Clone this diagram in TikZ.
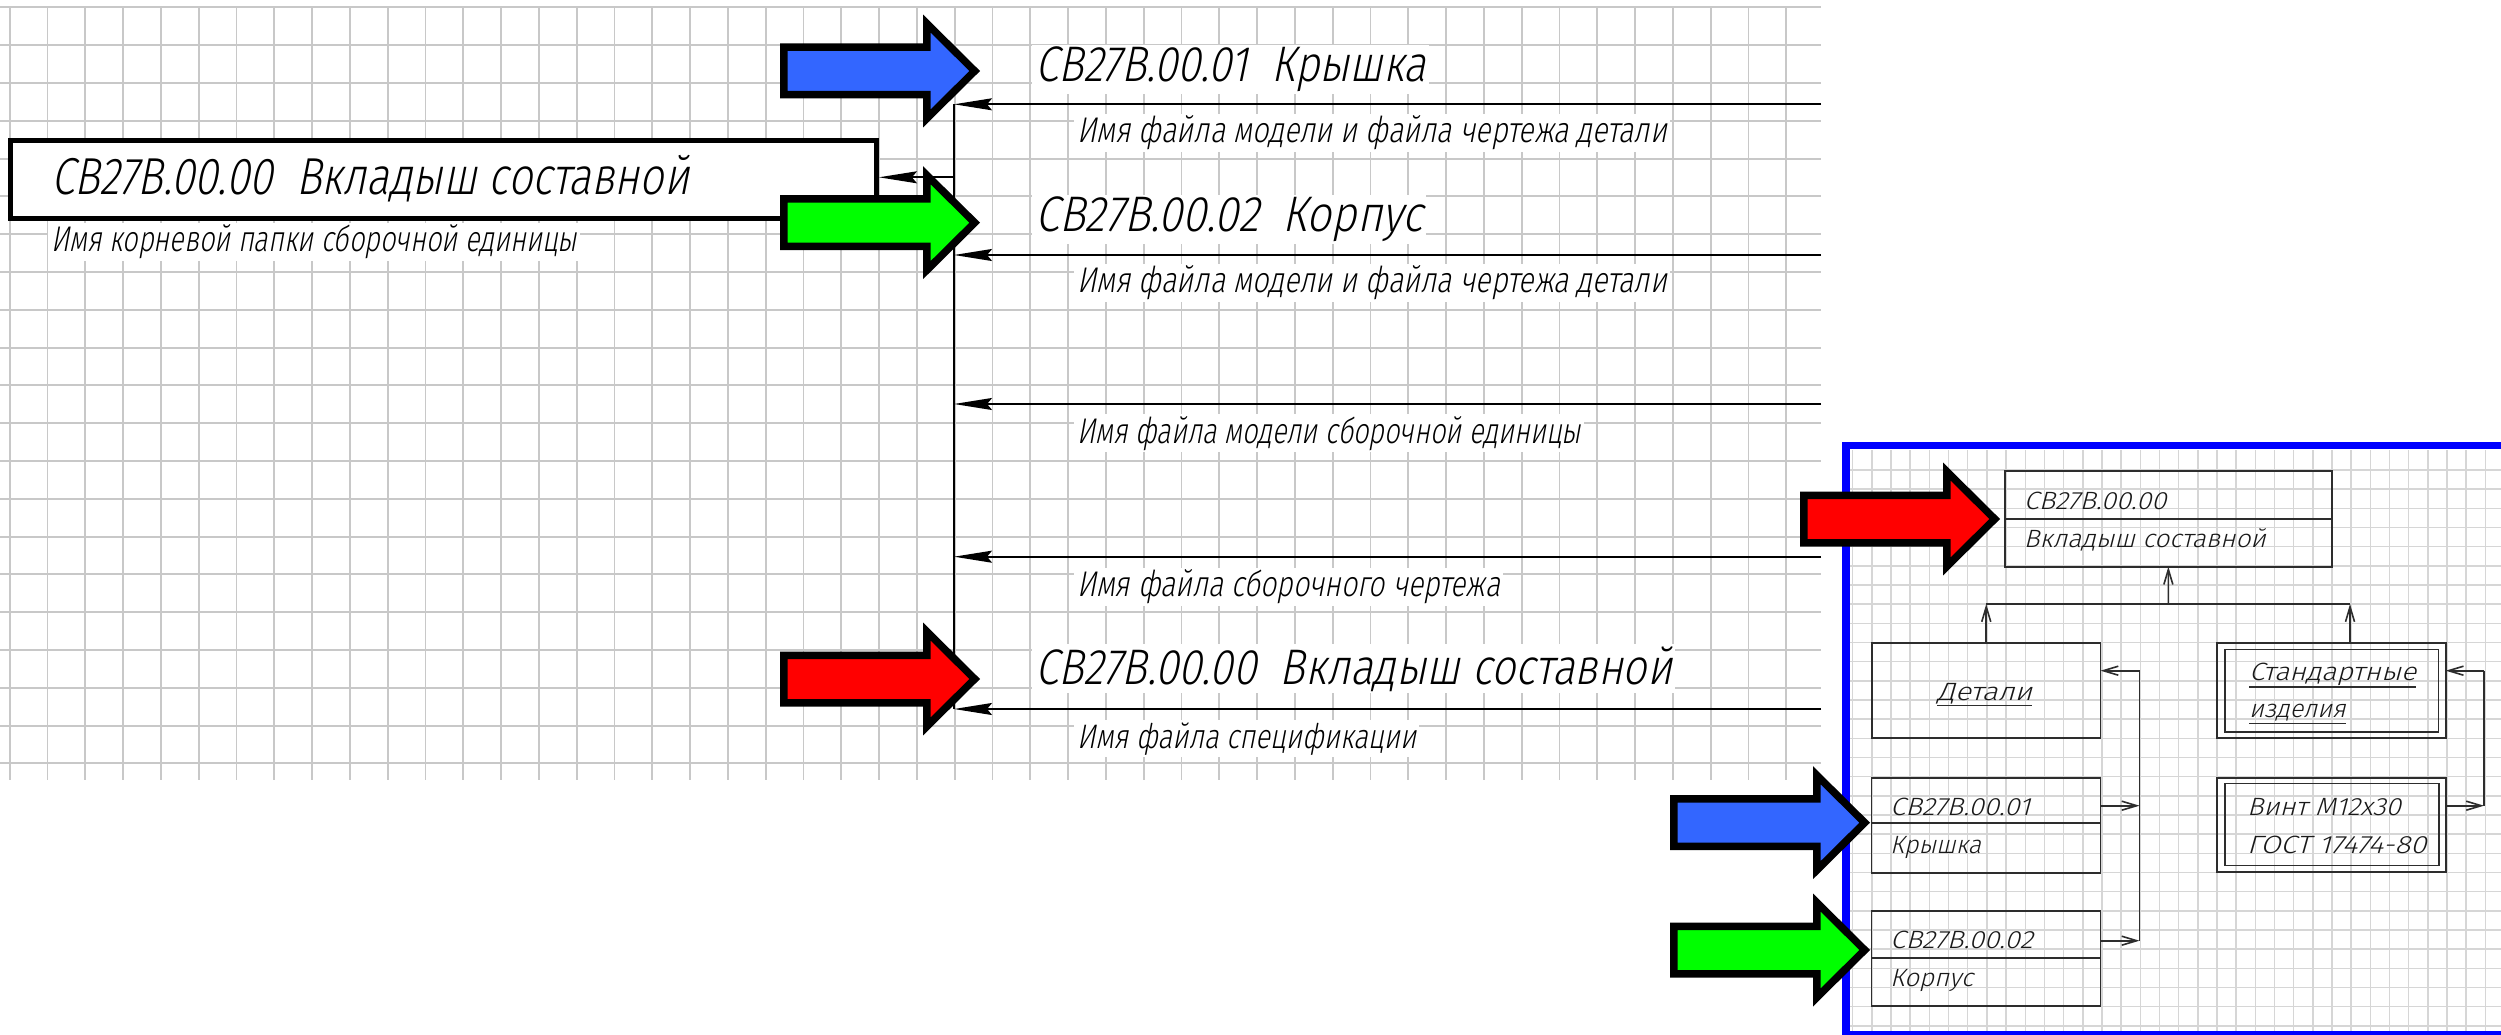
\documentclass[tikz,border=0pt]{standalone}
\usepackage{fontspec}
\usepackage{graphicx}
\usetikzlibrary{arrows.meta}
\IfFontExistsTF{Fira Sans Light}
  {\newfontfamily\gostfont{Fira Sans Light}[FakeSlant=0.24]}
  {\newfontfamily\gostbase{PT Sans}\newcommand\gostfont{\gostbase\itshape}}
\definecolor{gridc}{RGB}{200,200,200}
\definecolor{fgrid}{RGB}{214,214,214}
\definecolor{blueA}{RGB}{51,102,255}
\definecolor{frameblue}{RGB}{0,0,255}
\definecolor{rline}{RGB}{45,45,45}
\definecolor{rtext}{RGB}{25,25,25}
\newcommand\gtxt[3]{\resizebox{#1pt}{\height}{\fontsize{#2}{#2}\selectfont\gostfont #3}}
\newcommand\blockarr[3]{%
  \draw[barrow, fill=#1] ({#2-196.25},{#3-23.75}) -- ({#2-53.25},{#3-23.75}) -- ({#2-53.25},{#3-47.5}) -- ({#2-5.3},#3) -- ({#2-53.25},{#3+47.5}) -- ({#2-53.25},{#3+23.75}) -- ({#2-196.25},{#3+23.75}) -- cycle;}
\tikzset{
  lbl/.style={anchor=base west, inner xsep=3pt, inner ysep=2pt, fill=white, text=black},
  rlbl/.style={anchor=base west, inner sep=0pt, text=rtext},
  larrow/.style={draw=black, line width=2pt, -{Stealth[length=38pt,width=12pt,inset=5pt]}},
  rarr/.style={draw=rline, line width=1.6pt, -{Straight Barb[length=15pt,width=9pt]}},
  rbox/.style={draw=rline, line width=1.8pt, inner sep=0pt, outer sep=0pt, anchor=north west},
  barrow/.style={draw=black, line width=7.5pt, miter limit=10, line join=miter},
  uline/.style={draw=rline, line width=1.6pt},
}
\begin{document}
\begin{tikzpicture}[x=1pt,y=-1pt]
\useasboundingbox (0,0) rectangle (2501,1035);
\clip (0,0) rectangle (2501,1035);
\fill[white] (0,0) rectangle (2501,1035);
% ---------- left grid
\foreach \i in {0,...,20} \draw[gridc, line width=2pt] (0,{7.4+37.8*\i}) -- (1821,{7.4+37.8*\i});
\foreach \i in {0,...,47} \draw[gridc, line width=1.8pt] ({9.6+37.8*\i},7.4) -- ({9.6+37.8*\i},780);
% ---------- root box
\node[draw=black, fill=white, line width=4.5pt, inner sep=0pt, minimum width=866.2pt, minimum height=78pt, anchor=north west] (root) at (8.25,138.05) {};
\node[lbl] (t1) at (48,195) {\gtxt{638}{52}{СВ27В.00.00\hspace{0.55em}Вкладыш составной}};
\node[lbl] (t2) at (48,252) {\gtxt{526}{35.7}{Имя корневой папки сборочной единицы}};
% ---------- bus and connectors
\coordinate (btop) at (954,104.3);
\coordinate (bbot) at (954,709);
\draw[line width=1.5pt] (btop) -- (bbot);
\coordinate (b0) at (954,177.3);
\coordinate (b1) at (954,104.3);   \coordinate (e1) at (1821,104.3);
\coordinate (b2) at (954,255);     \coordinate (e2) at (1821,255);
\coordinate (b3) at (954,404);     \coordinate (e3) at (1821,404);
\coordinate (b4) at (954,556.7);   \coordinate (e4) at (1821,556.7);
\coordinate (b5) at (954,709);     \coordinate (e5) at (1821,709);
\draw[larrow, line width=1.6pt] (b0) -- (root.east |- b0);
\draw[larrow] (e1) -- (b1);
\draw[larrow] (e2) -- (b2);
\draw[larrow] (e3) -- (b3);
\draw[larrow] (e4) -- (b4);
\draw[larrow] (e5) -- (b5);
% ---------- left texts
\node[lbl] (t3) at (1032,81.7) {\gtxt{391}{50}{СВ27В.00.01\hspace{0.55em}Крышка}};
\node[lbl] (t4) at (1074,143) {\gtxt{590}{35.7}{Имя файла модели и файла чертежа детали}};
\node[lbl] (t5) at (1032,232) {\gtxt{388}{50}{СВ27В.00.02\hspace{0.55em}Корпус}};
\node[lbl] (t6) at (1074,293) {\gtxt{590}{35.7}{Имя файла модели и файла чертежа детали}};
\node[lbl] (t7) at (1074,443) {\gtxt{504}{35.7}{Имя файла модели сборочной единицы}};
\node[lbl] (t8) at (1074,596.7) {\gtxt{423}{35.7}{Имя файла сборочного чертежа}};
\node[lbl] (t9) at (1032,684) {\gtxt{637}{50}{СВ27В.00.00\hspace{0.55em}Вкладыш составной}};
\node[lbl] (t10) at (1074,748) {\gtxt{339}{34}{Имя файла спецификации}};
% ---------- left block arrows
\blockarr{blueA}{980}{71}
\blockarr{green}{980}{222.7}
\blockarr{red}{980}{679}
% ---------- right panel
\fill[white] (1842,441.7) rectangle (2501,1035);
\foreach \i in {0,...,33} \draw[fgrid, line width=1.5pt] ({1852.7+19.17*\i},450) -- ({1852.7+19.17*\i},1031);
\foreach \i in {-6,...,23} \draw[fgrid, line width=1.5pt] (1850,{585+19.17*\i}) -- (2501,{585+19.17*\i});
\draw[frameblue, line width=7.6pt] (1846,445.5) rectangle (2530,1034.5);
% boxes
\node[rbox, minimum width=326.7pt, minimum height=96pt] (top) at (2005,470.7) {};
\draw[rline, line width=1.8pt] (2005,519) -- (2331.7,519);
\node[rbox, minimum width=228.5pt, minimum height=95pt] (det) at (1872,643.3) {};
\node[rbox, minimum width=228.7pt, minimum height=95pt] (std) at (2217,643.3) {};
\node[rbox, minimum width=213.4pt, minimum height=82.3pt] (stdin) at (2225,649.5) {};
\node[rbox, minimum width=229pt, minimum height=94.4pt] (p1) at (1871.5,778.3) {};
\draw[rline, line width=1.8pt] (1871.5,823.3) -- (2100.5,823.3);
\node[rbox, minimum width=229pt, minimum height=95.3pt] (p2) at (1871.5,910.7) {};
\draw[rline, line width=1.8pt] (1871.5,958.3) -- (2100.5,958.3);
\node[rbox, minimum width=229pt, minimum height=94.6pt] (vint) at (2217,777.7) {};
\node[rbox, minimum width=213.3pt, minimum height=82pt] (vintin) at (2225.3,783.5) {};
% connectors
\coordinate (jl) at (1986.25,604);
\coordinate (jc) at (2168.35,604);
\coordinate (jr) at (2350,604);
\draw[rline, line width=1.6pt] (jl) -- (jr);
\draw[rarr] (jc) -- (top.south);
\draw[rarr] (det.north) -- (jl);
\draw[rarr] (jr |- std.north) -- (jr);
\coordinate (f1) at (2139.5,670.7);
\coordinate (f2) at (2139.5,805.7);
\coordinate (f3) at (2139.5,940.7);
\draw[rline, line width=1.6pt] (f1) -- (f3);
\draw[rarr] (f1) -- (det.east |- f1);
\draw[rarr] (p1.east |- f2) -- (f2);
\draw[rarr] (p2.east |- f3) -- (f3);
\coordinate (s1) at (2484,670.7);
\coordinate (s2) at (2484,805.7);
\draw[rline, line width=1.6pt] (s1) -- (s2);
\draw[rarr] (s1) -- (std.east |- s1);
\draw[rarr] (vint.east |- s2) -- (s2);
% right texts
\node[rlbl] (r1) at (2023.7,509) {\gtxt{142.3}{25}{СВ27В.00.00}};
\node[rlbl] (r2) at (2023.7,547) {\gtxt{242}{25}{Вкладыш составной}};
\node[rlbl] (r3) at (1937,700.7) {\gtxt{95}{25}{Детали}};
\draw[uline] ([yshift=-4.8pt]r3.base west) -- ([yshift=-4.8pt]r3.base east);
\node[rlbl] (r4) at (2249,680.7) {\gtxt{167}{25}{Стандартные}};
\draw[uline] ([yshift=-6pt]r4.base west) -- ([yshift=-6pt]r4.base east);
\node[rlbl] (r5) at (2249,717.3) {\gtxt{96.5}{25}{изделия}};
\draw[uline] ([yshift=-6pt]r5.base west) -- ([yshift=-6pt]r5.base east);
\node[rlbl] (r6) at (1890,815) {\gtxt{140}{25}{СВ27В.00.01}};
\node[rlbl] (r7) at (1890,853) {\gtxt{91}{25}{Крышка}};
\node[rlbl] (r8) at (1890,948.3) {\gtxt{142.6}{25}{СВ27В.00.02}};
\node[rlbl] (r9) at (1890,986.7) {\gtxt{83}{25}{Корпус}};
\node[rlbl] (r10) at (2247,815) {\gtxt{153.6}{25}{Винт M12x30}};
\node[rlbl] (r11) at (2247,853.3) {\gtxt{179}{25}{ГОСТ 17474-80}};
% right block arrows
\blockarr{red}{2000}{519}
\blockarr{blueA}{1870}{822.7}
\blockarr{green}{1870}{950}
\end{tikzpicture}
\end{document}
